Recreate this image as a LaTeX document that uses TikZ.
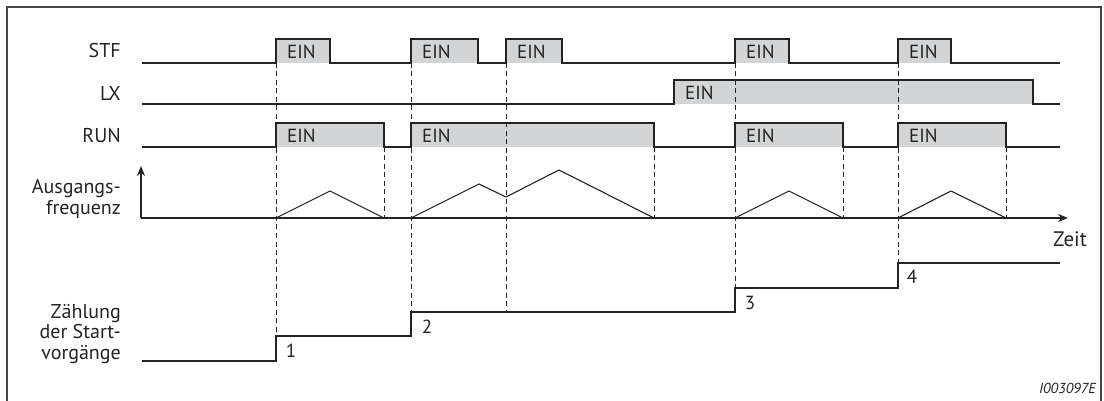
\documentclass[tikz,border=0pt]{standalone}
\usepackage{fontspec}
\setmainfont{PT Sans}
\usetikzlibrary{arrows.meta}
\definecolor{boxgray}{RGB}{211,212,214}
\definecolor{linedark}{RGB}{35,35,35}
\definecolor{framegray}{RGB}{70,70,70}
\tikzset{
  sig/.style={draw=linedark, line width=1.3pt, line join=miter},
  onfill/.style={fill=boxgray, draw=none},
  guide/.style={draw=linedark, line width=0.9pt, dash pattern=on 5pt off 3.5pt},
  freq/.style={draw=linedark, line width=1.1pt, line join=miter},
  axisline/.style={draw=linedark, line width=1.8pt},
  lbl/.style={font=\fontsize{20}{20.5}\selectfont, text=linedark, inner sep=0pt, align=right},
  eintext/.style={font=\fontsize{19}{20.5}\selectfont, text=linedark, inner sep=0pt, anchor=west},
  cnt/.style={font=\fontsize{19}{20.5}\selectfont, text=linedark, inner sep=0pt, anchor=center},
}
\begin{document}
\begin{tikzpicture}[x=1pt,y=-1pt]
\useasboundingbox (0,0) rectangle (1104,401);
% frame
\draw[draw=framegray, line width=1.6pt] (7,401) -- (7,7) -- (1101,7) -- (1101,401);

% gray ON areas
% STF
\foreach \a/\b in {276/330, 411/478, 506/562, 735/789, 898/951}
  \path[onfill] (\a,39) rectangle (\b,63);
% LX
\path[onfill] (674,80) rectangle (1033,104);
% RUN
\foreach \a/\b in {276/384, 411/654, 735/843, 898/1006}
  \path[onfill] (\a,123) rectangle (\b,147);

% dashed guide lines
\draw[guide] (276,63) -- (276,336);
\draw[guide] (384,147) -- (384,218);
\draw[guide] (411,63) -- (411,312);
\draw[guide] (506,63) -- (506,312);
\draw[guide] (654,147) -- (654,218);
\draw[guide] (735,63) -- (735,288);
\draw[guide] (843,147) -- (843,218);
\draw[guide] (898,63) -- (898,263);
\draw[guide] (1006,147) -- (1006,218);

% STF signal
\draw[sig] (142,63) -- (276,63) -- (276,39) -- (330,39) -- (330,63) -- (411,63) -- (411,39) -- (478,39) -- (478,63) -- (506,63) -- (506,39) -- (562,39) -- (562,63) -- (735,63) -- (735,39) -- (789,39) -- (789,63) -- (898,63) -- (898,39) -- (951,39) -- (951,63) -- (1060,63);
% LX signal
\draw[sig] (142,104) -- (674,104) -- (674,80) -- (1033,80) -- (1033,104) -- (1060,104);
% RUN signal
\draw[sig] (142,147) -- (276,147) -- (276,123) -- (384,123) -- (384,147) -- (411,147) -- (411,123) -- (654,123) -- (654,147) -- (735,147) -- (735,123) -- (843,123) -- (843,147) -- (898,147) -- (898,123) -- (1006,123) -- (1006,147) -- (1060,147);

% frequency axes
\coordinate (origin) at (141,218);
\coordinate (ytip) at (141,166);
\coordinate (xtip) at (1068,218);
\draw[axisline, -{Stealth[length=10pt,width=8pt]}] (origin) -- (ytip);
\draw[axisline, -{Stealth[length=10pt,width=8pt]}] (origin) -- (xtip);
% frequency curve
\draw[freq] (276,218) -- (330,191) -- (384,218);
\draw[freq] (411,218) -- (479,184) -- (506,197) -- (559,170) -- (654,218);
\draw[freq] (735,218) -- (789,191) -- (843,218);
\draw[freq] (898,218) -- (951,191) -- (1006,218);

% counter signal
\draw[sig] (142,361) -- (276,361) -- (276,336) -- (411,336) -- (411,312) -- (735,312) -- (735,288) -- (898,288) -- (898,263) -- (1060,263);

% labels
\node[lbl, anchor=east] (stf) at (121,51) {STF};
\node[lbl, anchor=east] (lx) at (121,94) {LX};
\node[lbl, anchor=east] (run) at (121,136) {RUN};
\node[lbl, anchor=east] (ausg) at (121,199) {Ausgangs-\\frequenz};
\node[lbl, anchor=east] (zaehl) at (121,334) {Zählung\\der Start-\\vorgänge};

% EIN texts
\node[eintext] (e1) at (287,52) {EIN};
\node[eintext] (e2) at (422,52) {EIN};
\node[eintext] (e3) at (517,52) {EIN};
\node[eintext] (e4) at (746,52) {EIN};
\node[eintext] (e5) at (909,52) {EIN};
\node[eintext] (e6) at (685,93) {EIN};
\node[eintext] (e7) at (287,136) {EIN};
\node[eintext] (e8) at (422,136) {EIN};
\node[eintext] (e9) at (746,136) {EIN};
\node[eintext] (e10) at (909,136) {EIN};

% counter numbers
\node[cnt] (n1) at (291,351) {1};
\node[cnt] (n2) at (427,327) {2};
\node[cnt] (n3) at (750,303) {3};
\node[cnt] (n4) at (912,277) {4};

% axis label and id
\node[font=\fontsize{21}{22}\selectfont, text=linedark, inner sep=0pt, anchor=center] (zeit) at (1070,239) {Zeit};
\node[font=\fontsize{14.5}{16}\selectfont\itshape, text=linedark, inner sep=0pt, anchor=east] (id) at (1096,388) {I003097E};
\end{tikzpicture}
\end{document}
